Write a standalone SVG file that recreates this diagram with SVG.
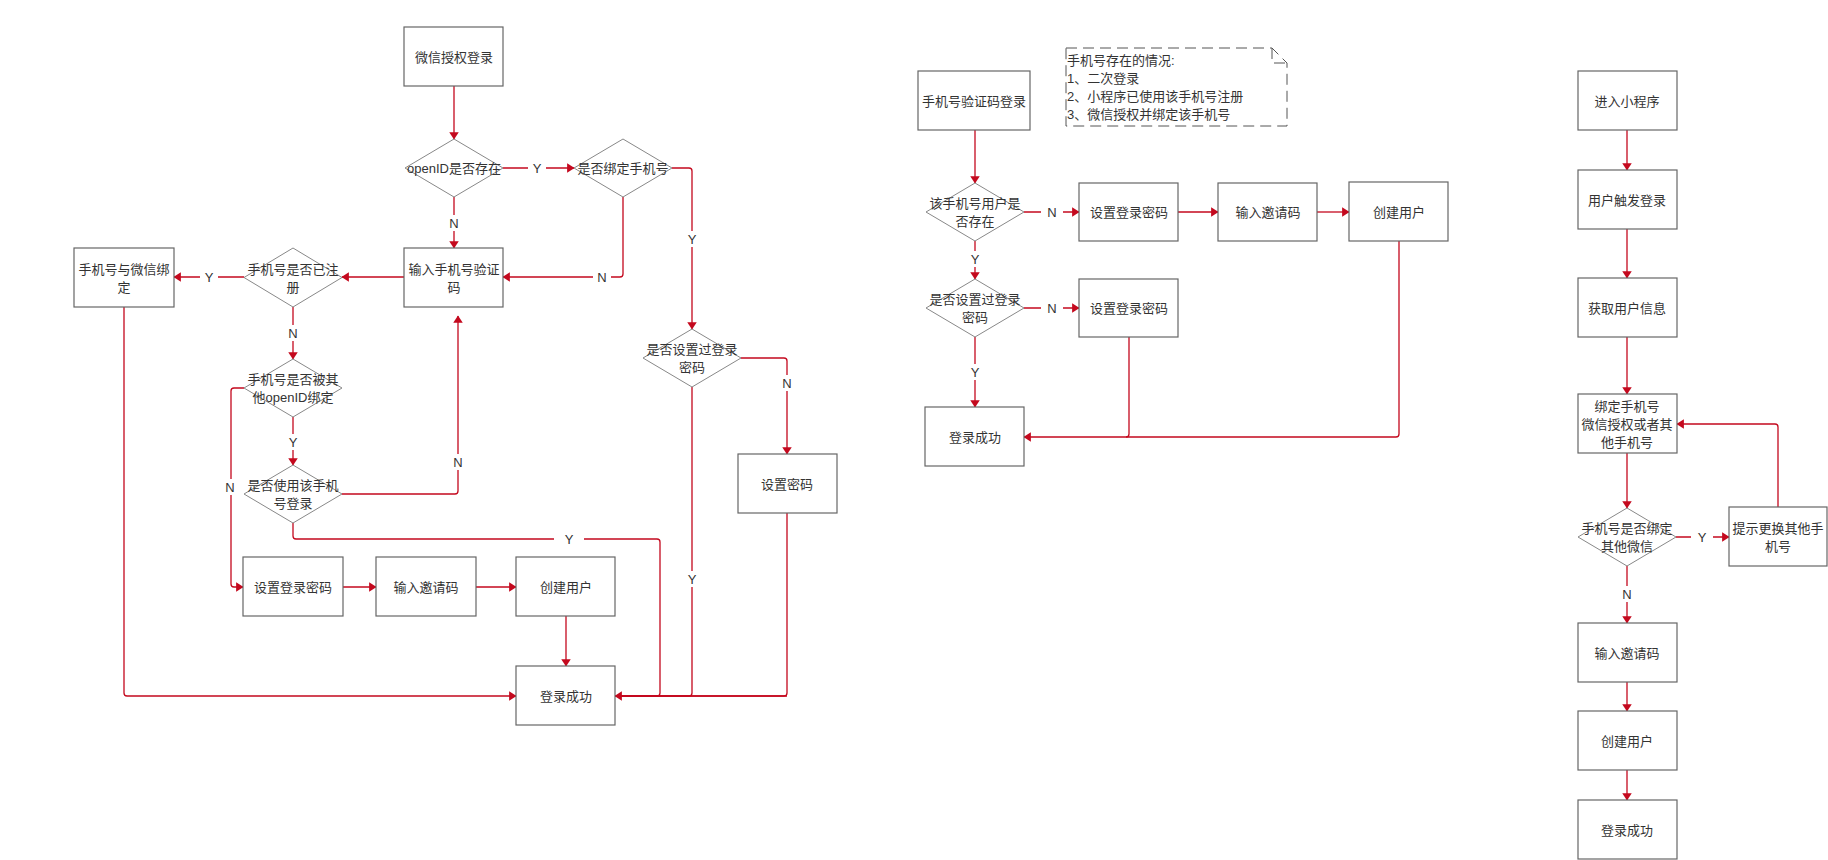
<svg xmlns="http://www.w3.org/2000/svg" width="1828" height="860" viewBox="0 0 1828 860">
<style>
.n rect,.n polygon{fill:#fff;stroke:#666;stroke-width:1.2}
.d polygon{fill:#fff;stroke:#888;stroke-width:1}
text{font-family:"Liberation Sans","Noto Sans CJK SC",sans-serif;font-size:13px;fill:#333;text-anchor:middle;dominant-baseline:central}
.c path{fill:none;stroke:#c4091e;stroke-width:1.3}
.c .ar{marker-end:url(#a)}
.lb rect{fill:#fff;stroke:none}
.note text{text-anchor:start}
</style>
<defs>
<marker id="a" viewBox="0 0 7 9" refX="6.5" refY="4.5" markerWidth="7.5" markerHeight="9.5" markerUnits="userSpaceOnUse" orient="auto">
<path d="M0,0 L7,4.5 L0,9 z" fill="#c4091e"/>
</marker>
</defs>
<rect width="1828" height="860" fill="#fff"/>

<g id="connectors" class="c">
<path class="ar" d="M454,86 V139"/>
<path class="ar" d="M503,168 H574"/>
<path class="ar" d="M454,197 V248"/>
<path class="ar" d="M623,197 V274 Q623,277 620,277 H503"/>
<path class="ar" d="M672,168 H689 Q692,168 692,171 V329"/>
<path class="ar" d="M741,358 H784 Q787,358 787,361 V454"/>
<path d="M787,513 V693 Q787,696 784,696 H615"/>
<path d="M692,387 V693 Q692,696 689,696 H615"/>
<path class="ar" d="M404,277 H342"/>
<path class="ar" d="M244,277 H174"/>
<path class="ar" d="M293,307 V359"/>
<path class="ar" d="M293,417 V465"/>
<path class="ar" d="M244,388 H234 Q231,388 231,391 V584 Q231,587 234,587 H243"/>
<path class="ar" d="M342,494 H455 Q458,494 458,491 V316"/>
<path d="M293,523 V536 Q293,539 296,539 H657 Q660,539 660,542 V693 Q660,696 657,696 H615"/>
<path class="ar" d="M787,696 H615"/>
<path class="ar" d="M343,587 H376"/>
<path class="ar" d="M476,587 H516"/>
<path class="ar" d="M566,616 V666"/>
<path class="ar" d="M124,307 V693 Q124,696 127,696 H516"/>

<path class="ar" d="M975,130 V183"/>
<path class="ar" d="M1024,212 H1079"/>
<path class="ar" d="M975,241 V279"/>
<path class="ar" d="M1024,308 H1079"/>
<path class="ar" d="M975,337 V407"/>
<path class="ar" d="M1178,212 H1218"/>
<path class="ar" d="M1317,212 H1349"/>
<path class="ar" d="M1399,241 V434 Q1399,437 1396,437 H1024"/>
<path d="M1129,337 V434 Q1129,437 1126,437"/>

<path class="ar" d="M1627,130 V170"/>
<path class="ar" d="M1627,229 V278"/>
<path class="ar" d="M1627,337 V394"/>
<path class="ar" d="M1627,453 V508"/>
<path class="ar" d="M1676,537 H1729"/>
<path class="ar" d="M1778,507 V427 Q1778,424 1775,424 H1677"/>
<path class="ar" d="M1627,566 V623"/>
<path class="ar" d="M1627,682 V711"/>
<path class="ar" d="M1627,770 V800"/>
</g>

<g id="labels" class="lb">
<rect x="528" y="160" width="18" height="16"/><text x="537" y="168">Y</text>
<rect x="445" y="215" width="18" height="16"/><text x="454" y="223">N</text>
<rect x="593" y="269" width="18" height="16"/><text x="602" y="277">N</text>
<rect x="683" y="231" width="18" height="16"/><text x="692" y="239">Y</text>
<rect x="778" y="375" width="18" height="16"/><text x="787" y="383">N</text>
<rect x="683" y="571" width="18" height="16"/><text x="692" y="579">Y</text>
<rect x="200" y="269" width="18" height="16"/><text x="209" y="277">Y</text>
<rect x="284" y="325" width="18" height="16"/><text x="293" y="333">N</text>
<rect x="284" y="434" width="18" height="16"/><text x="293" y="442">Y</text>
<rect x="222" y="479" width="18" height="16"/><text x="230" y="487">N</text>
<rect x="449" y="454" width="18" height="16"/><text x="458" y="462">N</text>
<rect x="554" y="531" width="30" height="16"/><text x="569" y="539">Y</text>
<rect x="1041" y="204" width="22" height="16"/><text x="1052" y="212">N</text>
<rect x="966" y="251" width="18" height="16"/><text x="975" y="259">Y</text>
<rect x="1041" y="300" width="22" height="16"/><text x="1052" y="308">N</text>
<rect x="966" y="364" width="18" height="16"/><text x="975" y="372">Y</text>
<rect x="1691" y="529" width="22" height="16"/><text x="1702" y="537">Y</text>
<rect x="1618" y="586" width="18" height="16"/><text x="1627" y="594">N</text>
</g>

<g id="n1" class="n"><rect x="404" y="27" width="99" height="59"/><text x="454" y="57">微信授权登录</text></g>
<g id="n2" class="d"><polygon points="454,139 503,168 454,197 405,168"/><text x="454" y="168">openID是否存在</text></g>
<g id="n3" class="d"><polygon points="623,139 672,168 623,197 574,168"/><text x="623" y="168">是否绑定手机号</text></g>
<g id="n4" class="n"><rect x="404" y="248" width="99" height="59"/><text x="454" y="269">输入手机号验证</text><text x="454" y="287">码</text></g>
<g id="n5" class="d"><polygon points="293,248 342,277.5 293,307 244,277.5"/><text x="293" y="269">手机号是否已注</text><text x="293" y="287">册</text></g>
<g id="n6" class="n"><rect x="74" y="248" width="100" height="59"/><text x="124" y="269">手机号与微信绑</text><text x="124" y="287">定</text></g>
<g id="n7" class="d"><polygon points="692,329 741,358 692,387 643,358"/><text x="692" y="349">是否设置过登录</text><text x="692" y="367">密码</text></g>
<g id="n8" class="n"><rect x="738" y="454" width="99" height="59"/><text x="787" y="484">设置密码</text></g>
<g id="n9" class="d"><polygon points="293,359 342,388 293,417 244,388"/><text x="293" y="379">手机号是否被其</text><text x="293" y="397">他openID绑定</text></g>
<g id="n10" class="d"><polygon points="293,465 342,494 293,523 244,494"/><text x="293" y="485">是否使用该手机</text><text x="293" y="503">号登录</text></g>
<g id="n11" class="n"><rect x="243" y="557" width="100" height="59"/><text x="293" y="587">设置登录密码</text></g>
<g id="n12" class="n"><rect x="376" y="557" width="100" height="59"/><text x="426" y="587">输入邀请码</text></g>
<g id="n13" class="n"><rect x="516" y="557" width="99" height="59"/><text x="566" y="587">创建用户</text></g>
<g id="n14" class="n"><rect x="516" y="666" width="99" height="59"/><text x="566" y="696">登录成功</text></g>

<g id="m1" class="n"><rect x="918" y="71" width="112" height="59"/><text x="974" y="101">手机号验证码登录</text></g>
<g id="m2" class="d"><polygon points="975,183 1024,212 975,241 926,212"/><text x="975" y="203">该手机号用户是</text><text x="975" y="221">否存在</text></g>
<g id="m3" class="n"><rect x="1079" y="183" width="99" height="58"/><text x="1129" y="212">设置登录密码</text></g>
<g id="m4" class="n"><rect x="1218" y="183" width="99" height="58"/><text x="1268" y="212">输入邀请码</text></g>
<g id="m5" class="n"><rect x="1349" y="182" width="99" height="59"/><text x="1399" y="212">创建用户</text></g>
<g id="m6" class="d"><polygon points="975,279 1024,308 975,337 926,308"/><text x="975" y="299">是否设置过登录</text><text x="975" y="317">密码</text></g>
<g id="m7" class="n"><rect x="1079" y="279" width="99" height="58"/><text x="1129" y="308">设置登录密码</text></g>
<g id="m8" class="n"><rect x="925" y="407" width="99" height="59"/><text x="975" y="437">登录成功</text></g>
<g id="note" class="note">
<path d="M1066,48 H1272 L1287,63 V126 H1066 Z M1272,48 V63 H1287" fill="#fff" stroke="#555" stroke-width="1" stroke-dasharray="11,6"/>
<text x="1067" y="60">手机号存在的情况:</text>
<text x="1067" y="78">1、二次登录</text>
<text x="1067" y="96">2、小程序已使用该手机号注册</text>
<text x="1067" y="114">3、微信授权并绑定该手机号</text>
</g>

<g id="r1" class="n"><rect x="1578" y="71" width="99" height="59"/><text x="1627" y="101">进入小程序</text></g>
<g id="r2" class="n"><rect x="1578" y="170" width="99" height="59"/><text x="1627" y="200">用户触发登录</text></g>
<g id="r3" class="n"><rect x="1578" y="278" width="99" height="59"/><text x="1627" y="308">获取用户信息</text></g>
<g id="r4" class="n"><rect x="1578" y="394" width="99" height="59"/><text x="1627" y="406">绑定手机号</text><text x="1627" y="424">微信授权或者其</text><text x="1627" y="442">他手机号</text></g>
<g id="r5" class="d"><polygon points="1627,508 1676,537 1627,566 1578,537"/><text x="1627" y="528">手机号是否绑定</text><text x="1627" y="546">其他微信</text></g>
<g id="r6" class="n"><rect x="1729" y="507" width="98" height="59"/><text x="1778" y="528">提示更换其他手</text><text x="1778" y="546">机号</text></g>
<g id="r7" class="n"><rect x="1578" y="623" width="99" height="59"/><text x="1627" y="653">输入邀请码</text></g>
<g id="r8" class="n"><rect x="1578" y="711" width="99" height="59"/><text x="1627" y="741">创建用户</text></g>
<g id="r9" class="n"><rect x="1578" y="800" width="99" height="59"/><text x="1627" y="830">登录成功</text></g>
</svg>
